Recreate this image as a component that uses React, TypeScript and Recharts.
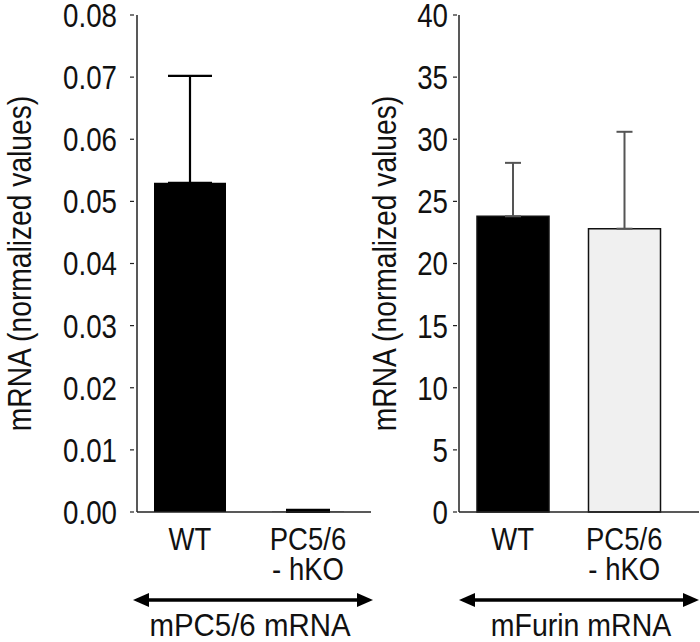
import React from 'react';
import { BarChart, Bar, XAxis, YAxis, ErrorBar, Cell } from 'recharts';

const categories = ['WT', 'PC5/6\n- hKO'];
const pc56Values = [0.053, 0.00003];
const pc56ErrUpper = [0.0172, 0.0003];
const furinValues = [23.8, 22.8];
const furinErrUpper = [4.3, 7.8];
const pc56Ticks = [0, 0.01, 0.02, 0.03, 0.04, 0.05, 0.06, 0.07, 0.08];
const furinTicks = [0, 5, 10, 15, 20, 25, 30, 35, 40];
const furinFills = ['#000000', '#f0f0f0'];
const yLabel = 'mRNA (normalized values)';
const groupLabels = ['mPC5/6 mRNA', 'mFurin mRNA'];

const FONT = "'Liberation Sans', Arial, sans-serif";

const pc56Data = categories.map((c, i) => ({ name: c, value: pc56Values[i], err: [0, pc56ErrUpper[i]] }));
const furinData = categories.map((c, i) => ({ name: c, value: furinValues[i], err: [0, furinErrUpper[i]] }));

// Condensed text helper (the reference uses a narrow sans face)
const CText = ({ x, y, anchor = 'middle', fs = 32, sx = 0.85, rot = 0, dy, baseline, children }: any) => (
  <g transform={`translate(${x},${y}) rotate(${rot}) scale(${sx},1)`}>
    <text
      x={0}
      y={0}
      dy={dy}
      textAnchor={anchor}
      dominantBaseline={baseline}
      fontSize={fs}
      fontFamily={FONT}
      fill="#111"
    >
      {children}
    </text>
  </g>
);

const makeYTick = (fmt: (v: number) => string, gap: number, t1: number, t2: number) => (props: any) => {
  const { x, y, payload } = props;
  return (
    <g>
      <line x1={x - t1} x2={x - t2} y1={y} y2={y} stroke="#222" strokeWidth={1.2} />
      <CText x={x - gap} y={y} dy="0.36em" anchor="end" fs={33} sx={0.84}>
        {fmt(payload.value)}
      </CText>
    </g>
  );
};

const XTick = (props: any) => {
  const { x, y, payload } = props;
  const lines = String(payload.value).split('\n');
  return (
    <g>
      {lines.map((l, i) => (
        <CText key={i} x={x} y={y + 38 + i * 30} anchor="middle" fs={32} sx={0.86}>
          {l}
        </CText>
      ))}
    </g>
  );
};

const makeYLabel = (cx: number) => (props: any) => {
  const vb = props.viewBox || {};
  const cy = vb.y + vb.height / 2;
  return (
    <CText x={cx} y={cy} rot={-90} anchor="middle" baseline="central" fs={33} sx={0.855}>
      {yLabel}
    </CText>
  );
};

const Arrow = ({ x1, x2, y }: { x1: number; x2: number; y: number }) => (
  <g>
    <line x1={x1 + 12} x2={x2 - 12} y1={y} y2={y} stroke="#000" strokeWidth={3.5} />
    <polygon points={`${x1},${y} ${x1 + 16},${y - 7} ${x1 + 16},${y + 7}`} fill="#000" />
    <polygon points={`${x2},${y} ${x2 - 16},${y - 7} ${x2 - 16},${y + 7}`} fill="#000" />
  </g>
);

export default function App() {
  return (
    <div style={{ position: 'absolute', left: 0, top: 0, width: 700, height: 642, background: '#fff', overflow: 'hidden' }}>
      <div style={{ position: 'absolute', left: 0, top: 0 }}>
        <BarChart width={380} height={642} data={pc56Data} margin={{ top: 15, right: 9, left: 0, bottom: 50 }}>
          <YAxis
            width={137}
            domain={[0, 0.08]}
            ticks={pc56Ticks}
            interval={0}
            tickSize={0}
            tickMargin={0}
            tickLine={false}
            axisLine={{ stroke: '#222', strokeWidth: 1.5 }}
            tick={makeYTick((v) => v.toFixed(2), 20, 7, 3)}
            label={makeYLabel(20)}
          />
          <XAxis
            dataKey="name"
            height={80}
            tickSize={0}
            tickMargin={0}
            tickLine={false}
            padding={{ left: -6, right: 4 }}
            axisLine={{ stroke: '#222', strokeWidth: 1.5 }}
            tick={<XTick />}
            interval={0}
          />
          <Bar dataKey="value" barSize={72} fill="#000" isAnimationActive={false}>
            <ErrorBar dataKey="err" width={22} stroke="#000" strokeWidth={2.2} direction="y" />
          </Bar>
        </BarChart>
      </div>
      <div style={{ position: 'absolute', left: 360, top: 0 }}>
        <BarChart width={340} height={642} data={furinData} margin={{ top: 15, right: 1, left: 0, bottom: 50 }}>
          <YAxis
            width={99}
            domain={[0, 40]}
            ticks={furinTicks}
            interval={0}
            tickSize={0}
            tickMargin={0}
            tickLine={false}
            axisLine={{ stroke: '#222', strokeWidth: 1.5 }}
            tick={makeYTick((v) => String(v), 11, 6, 2)}
            label={makeYLabel(25)}
          />
          <XAxis
            dataKey="name"
            height={80}
            tickSize={0}
            tickMargin={0}
            tickLine={false}
            padding={{ left: -2, right: 19 }}
            axisLine={{ stroke: '#222', strokeWidth: 1.5 }}
            tick={<XTick />}
            interval={0}
          />
          <Bar dataKey="value" barSize={72} stroke="#111" strokeWidth={1.5} isAnimationActive={false}>
            {furinData.map((d, i) => (
              <Cell key={d.name} fill={furinFills[i]} />
            ))}
            <ErrorBar dataKey="err" width={8} stroke="#555" strokeWidth={2} direction="y" />
          </Bar>
        </BarChart>
      </div>
      <svg width={700} height={642} style={{ position: 'absolute', left: 0, top: 0, pointerEvents: 'none' }}>
        <Arrow x1={133} x2={373} y={600} />
        <Arrow x1={459} x2={699} y={600} />
        <CText x={250} y={636} anchor="middle" fs={31} sx={0.95}>{groupLabels[0]}</CText>
        <CText x={581} y={636} anchor="middle" fs={31} sx={0.92}>{groupLabels[1]}</CText>
      </svg>
    </div>
  );
}
